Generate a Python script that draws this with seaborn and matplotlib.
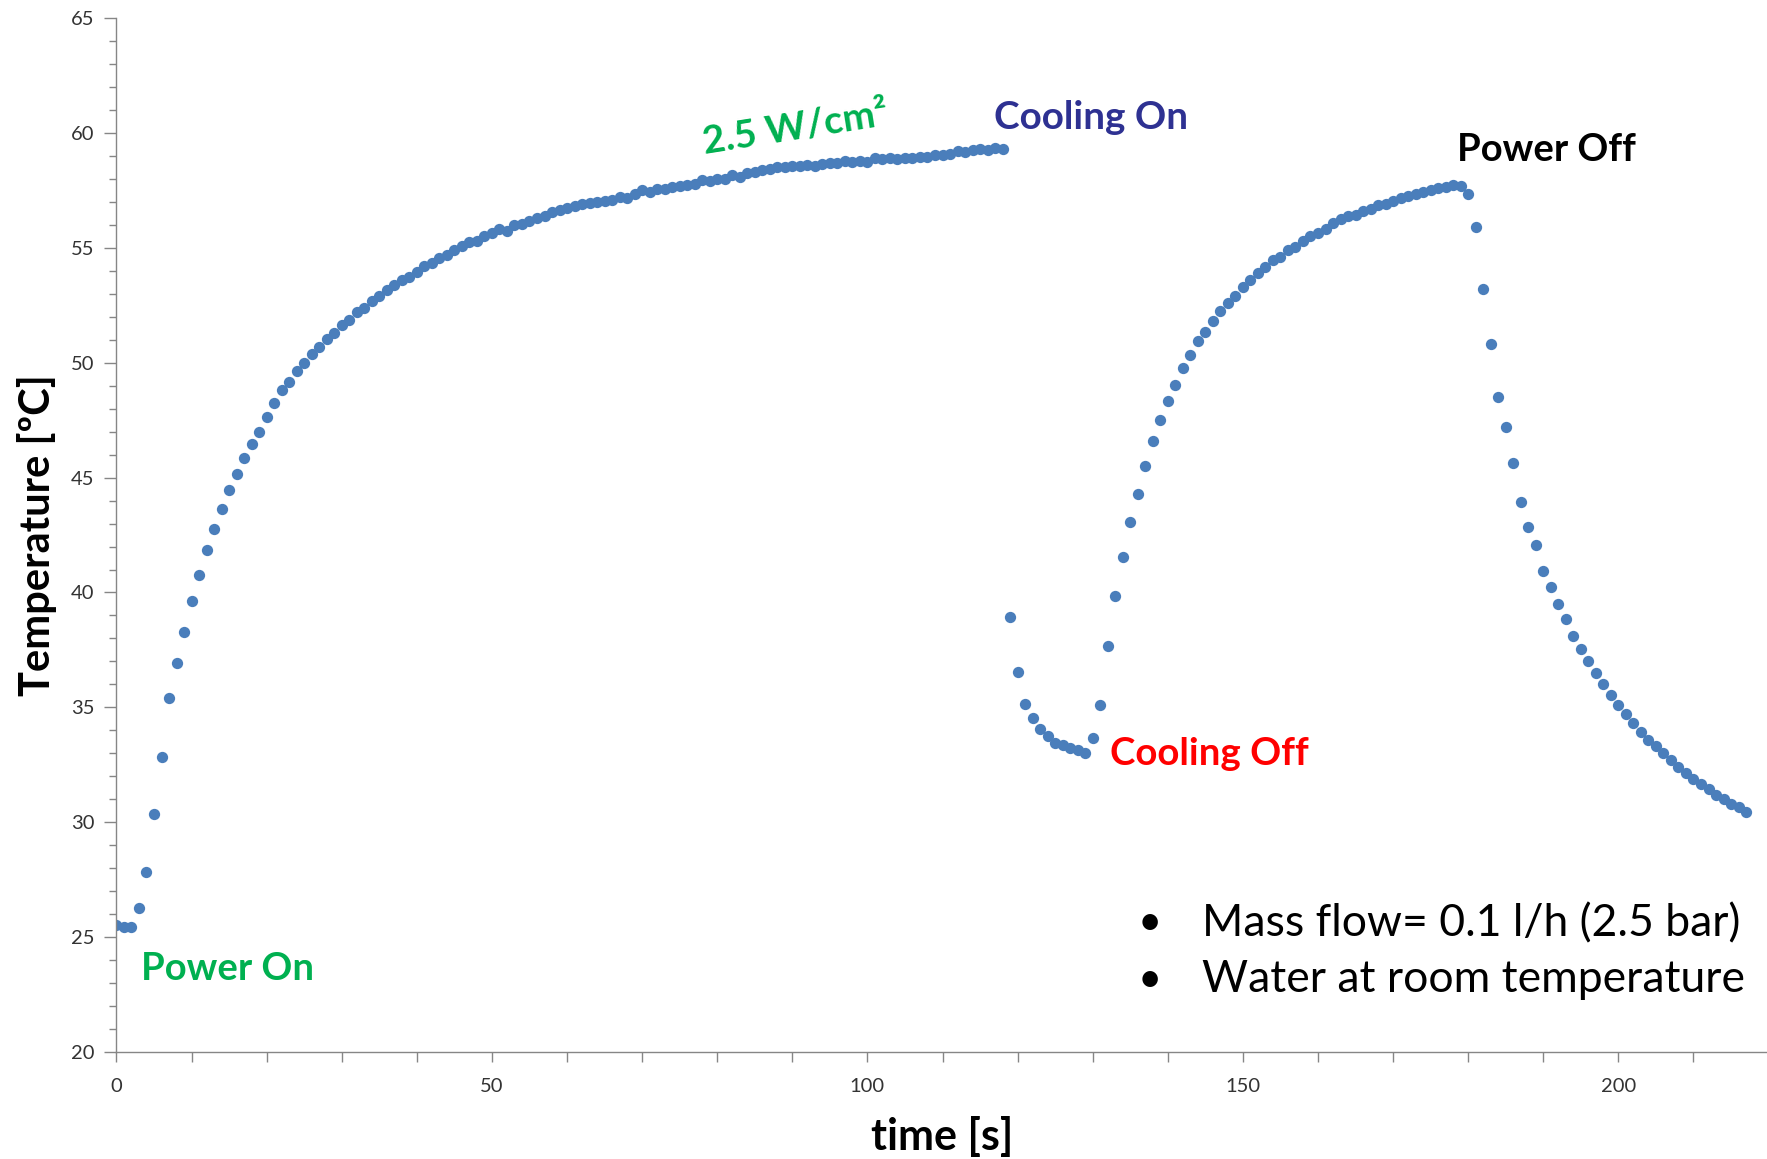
import numpy as np
import pandas as pd
import matplotlib
matplotlib.use("Agg")
import matplotlib.pyplot as plt
from matplotlib.ticker import MultipleLocator
import seaborn as sns

# Logged temperature, one sample per second, split into the four test phases.
SAMPLE_PERIOD_S = 1.0

# Phase 1: power on (2.5 W/cm²), no cooling
heating_start_s = 0
heating_temp = [
    25.55, 25.45, 25.45, 26.25, 27.85, 30.35, 32.85, 35.40, 36.95, 38.30,
    39.65, 40.75, 41.85, 42.75, 43.65, 44.45, 45.15, 45.85, 46.45, 47.00,
    47.65, 48.25, 48.80, 49.15, 49.65, 50.00, 50.40, 50.70, 51.05, 51.30,
    51.65, 51.85, 52.20, 52.40, 52.70, 52.90, 53.15, 53.40, 53.60, 53.75,
    53.95, 54.20, 54.35, 54.55, 54.70, 54.90, 55.10, 55.25, 55.30, 55.50,
    55.65, 55.80, 55.75, 56.00, 56.05, 56.15, 56.30, 56.40, 56.55, 56.65,
    56.75, 56.80, 56.90, 56.95, 57.00, 57.05, 57.10, 57.20, 57.15, 57.35,
    57.50, 57.45, 57.55, 57.55, 57.65, 57.70, 57.75, 57.80, 57.95, 57.90,
    58.00, 58.00, 58.15, 58.10, 58.25, 58.30, 58.40, 58.45, 58.50, 58.50,
    58.55, 58.55, 58.60, 58.55, 58.65, 58.70, 58.70, 58.80, 58.75, 58.80,
    58.75, 58.90, 58.85, 58.90, 58.85, 58.90, 58.90, 58.95, 58.95, 59.05,
    59.05, 59.10, 59.20, 59.15, 59.25, 59.30, 59.25, 59.35, 59.30,
]

# Phase 2: cooling on
cooling_start_s = 119
cooling_temp = [
    38.95, 36.55, 35.15, 34.55, 34.05, 33.75, 33.45, 33.35, 33.25, 33.15,
    33.00,
]

# Phase 3: cooling off again, heater still on
reheat_start_s = 130
reheat_temp = [
    33.65, 35.10, 37.65, 39.85, 41.55, 43.05, 44.30, 45.50, 46.60, 47.50,
    48.35, 49.05, 49.75, 50.35, 50.95, 51.35, 51.80, 52.25, 52.60, 52.90,
    53.30, 53.60, 53.90, 54.15, 54.45, 54.60, 54.90, 55.05, 55.30, 55.50,
    55.65, 55.80, 56.10, 56.25, 56.40, 56.45, 56.60, 56.70, 56.85, 56.90,
    57.05, 57.15, 57.25, 57.35, 57.45, 57.50, 57.60, 57.65, 57.75, 57.70,
]

# Phase 4: power off, free decay
decay_start_s = 180
decay_temp = [
    57.35, 55.90, 53.20, 50.80, 48.50, 47.20, 45.65, 43.95, 42.85, 42.05,
    40.95, 40.25, 39.50, 38.85, 38.10, 37.55, 37.00, 36.50, 36.00, 35.55,
    35.10, 34.70, 34.30, 33.95, 33.60, 33.30, 33.00, 32.70, 32.40, 32.15,
    31.90, 31.65, 31.45, 31.20, 31.00, 30.80, 30.65, 30.45,
]

phases = [
    (heating_start_s, heating_temp),
    (cooling_start_s, cooling_temp),
    (reheat_start_s, reheat_temp),
    (decay_start_s, decay_temp),
]
frames = []
for start, temps in phases:
    t = start + SAMPLE_PERIOD_S * np.arange(len(temps))
    frames.append(pd.DataFrame({"time": t, "temperature": temps}))
df = pd.concat(frames, ignore_index=True)

sns.set_theme(style="white")
plt.rcParams["font.family"] = ["Lato", "DejaVu Sans"]

AXIS_GREY = "#868686"
LABEL_GREY = "#333333"
POINT_BLUE = "#4A7EBB"
GREEN = "#00B050"
RED = "#FF0000"
NAVY = "#2E3192"

fig = plt.figure(figsize=(17.67, 11.59), dpi=100)
ax = fig.add_axes([0.0659, 0.0923, 0.935, 0.8921])

sns.scatterplot(data=df, x="time", y="temperature", ax=ax,
                color=POINT_BLUE, s=66, linewidth=0, legend=False)

ax.set_xlim(0, 220)
ax.set_ylim(20, 65)

ax.xaxis.set_major_locator(MultipleLocator(50))
ax.xaxis.set_minor_locator(MultipleLocator(10))
ax.yaxis.set_major_locator(MultipleLocator(5))
ax.yaxis.set_minor_locator(MultipleLocator(1))

for side in ("top", "right"):
    ax.spines[side].set_visible(False)
for side in ("left", "bottom"):
    ax.spines[side].set_color(AXIS_GREY)
    ax.spines[side].set_linewidth(1.0)

ax.tick_params(which="both", bottom=True, left=True, direction="out",
               color=AXIS_GREY, width=1.0)
ax.tick_params(axis="x", which="both", length=7, pad=12, labelsize=14.5,
               labelcolor=LABEL_GREY)
ax.tick_params(axis="y", which="major", length=9, pad=7, labelsize=14.5,
               labelcolor=LABEL_GREY)
ax.tick_params(axis="y", which="minor", length=5)

ax.set_xlabel("time [s]", fontsize=31, fontweight="bold", color="black",
              va="center")
ax.xaxis.set_label_coords(0.4996, -0.082)
ax.set_ylabel("Temperature [ºC]", fontsize=30, fontweight="bold",
              color="black", va="center")
ax.yaxis.set_label_coords(-0.048, 0.5)

# Event annotations
ax.text(3.3, 23.62, "Power On", color=GREEN, fontsize=27.5, fontweight="bold",
        ha="left", va="center")
ax.text(90.4, 60.25, "2.5 W/cm²", color=GREEN, fontsize=28,
        fontweight="bold", ha="center", va="center", rotation=9,
        rotation_mode="anchor")
ax.text(116.8, 60.69, "Cooling On", color=NAVY, fontsize=27.8,
        fontweight="bold", ha="left", va="center")
ax.text(178.5, 59.26, "Power Off", color="black", fontsize=27.5,
        fontweight="bold", ha="left", va="center")
ax.text(132.3, 32.97, "Cooling Off", color=RED, fontsize=27.6,
        fontweight="bold", ha="left", va="center")

# Test conditions
notes = ["Mass flow= 0.1 l/h (2.5 bar)", "Water at room temperature"]
note_y = [25.6, 23.15]
for text, y in zip(notes, note_y):
    ax.text(136.0, y, "•", color="black", fontsize=30, ha="left", va="center")
    ax.text(144.5, y, text, color="black", fontsize=32, ha="left",
            va="center")

fig.savefig("out.png", dpi=100)
